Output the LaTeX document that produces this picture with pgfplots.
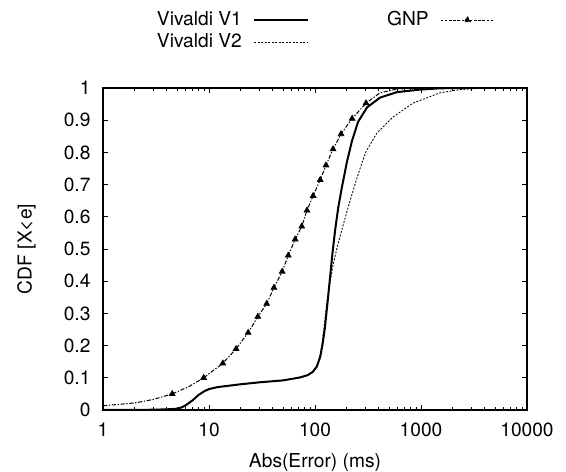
\documentclass[border=0pt]{standalone}
\usepackage{fontspec}
\setmainfont{TeX Gyre Heros}
\usepackage{pgfplots}
\pgfplotsset{compat=1.18}

\begin{document}
\fontsize{11.5}{13.5}\selectfont
\begin{tikzpicture}
\useasboundingbox (-61.8pt,-37.2pt) rectangle (277.8pt,246pt);
\begin{axis}[xmode=log, at={(0,0)}, anchor=south west,
  scale only axis, width=254.4pt, height=193.2pt,
  xmin=1, xmax=10000, ymin=0, ymax=1,
  xtick={1,10,100,1000,10000}, xticklabels={1,10,100,1000,10000},
  ytick={0,0.1,...,1.01}, yticklabels={0,0.1,0.2,0.3,0.4,0.5,0.6,0.7,0.8,0.9,1},
  /pgf/number format/assume math mode=true,
  tick align=inside, major tick length=3pt, minor tick length=1.8pt,
  axis line style={line width=0.7pt}, tick style={black, line width=0.5pt},
  xticklabel style={yshift=-4pt}, yticklabel style={xshift=-3.5pt},
  xlabel={Abs(Error) (ms)}, ylabel={CDF [X<e]},
  xlabel style={yshift=-2pt}, ylabel style={yshift=9pt},
  legend columns=2, legend plot pos=right, legend cell align=right,
  legend image code/.code={\draw[mark repeat=2, mark phase=2, #1] plot coordinates {(0pt,0pt) (16pt,0pt) (32pt,0pt)};},
  legend style={draw=none, fill=none, at={(axis description cs:0.936,1.095)}, anchor=south east,
    row sep=-1pt, /tikz/every odd column/.append style={column sep=5pt},
    /tikz/every even column/.append style={column sep=45pt}},
]
\addplot[black, line width=1.2pt] coordinates {
(1,0) (2,0) (3,0.001) (4,0.002) (5,0.004) (5.5,0.008) (6,0.014) (7,0.03) (8,0.047) (9,0.058)
(10,0.065) (12,0.071) (15,0.075) (20,0.08) (30,0.086) (50,0.092) (72,0.101) (85,0.108) (95,0.118)
(104,0.135) (112,0.165) (118,0.205) (124,0.255) (130,0.32) (138,0.405) (146,0.485) (155,0.56)
(166,0.63) (179,0.69) (200,0.77) (223,0.835) (255,0.895) (310,0.94) (410,0.97) (590,0.987)
(980,0.995) (1500,0.999) (2500,1) (10000,1)};
\addlegendentry{Vivaldi V1}
\addlegendimage{black, line width=0.5pt, dash pattern=on 1.5pt off 1pt, mark=triangle*, mark size=2pt}
\addlegendentry{GNP}
\addplot[black, line width=0.5pt, dash pattern=on 1.2pt off 0.9pt] coordinates {
(1,0) (2,0) (3,0.001) (4,0.002) (5,0.004) (5.5,0.008) (6,0.014) (7,0.03) (8,0.047) (9,0.058)
(10,0.065) (12,0.071) (15,0.075) (20,0.08) (30,0.086) (50,0.092) (72,0.101) (85,0.108) (95,0.118)
(104,0.133) (110,0.16) (116,0.2) (121,0.25) (128,0.32) (136,0.38) (148,0.45) (163,0.51) (183,0.57)
(214,0.65) (257,0.735) (300,0.8) (383,0.86) (545,0.91) (840,0.953) (1510,0.985) (2340,0.995)
(4000,1) (10000,1)};
\addlegendentry{Vivaldi V2}
\addplot[black, line width=0.6pt, dash pattern=on 2.5pt off 1pt on 0.8pt off 1pt, forget plot] coordinates {
(1,0.013) (2,0.022) (3,0.033) (4.5,0.05) (6.5,0.073) (8.9,0.1) (13.5,0.145) (18,0.19) (23.4,0.24)
(28.9,0.29) (35,0.33) (41,0.38) (49,0.43) (56,0.48) (65,0.53) (75,0.57) (84,0.62) (96,0.665)
(112,0.715) (127,0.76) (148,0.81) (176,0.857) (224,0.905) (303,0.953) (410,0.985) (600,0.997)
(1000,1) (10000,1)};
\addplot[only marks, black, mark=triangle*, mark size=2pt, forget plot] coordinates {
(4.5,0.05) (8.9,0.1) (13.5,0.145) (18,0.19) (23.4,0.24) (28.9,0.29) (35,0.33) (41,0.38) (49,0.43)
(56,0.48) (65,0.53) (75,0.57) (84,0.62) (96,0.665) (112,0.715) (127,0.76) (148,0.81) (176,0.857)
(224,0.905) (303,0.953)};
\end{axis}
\end{tikzpicture}
\end{document}
